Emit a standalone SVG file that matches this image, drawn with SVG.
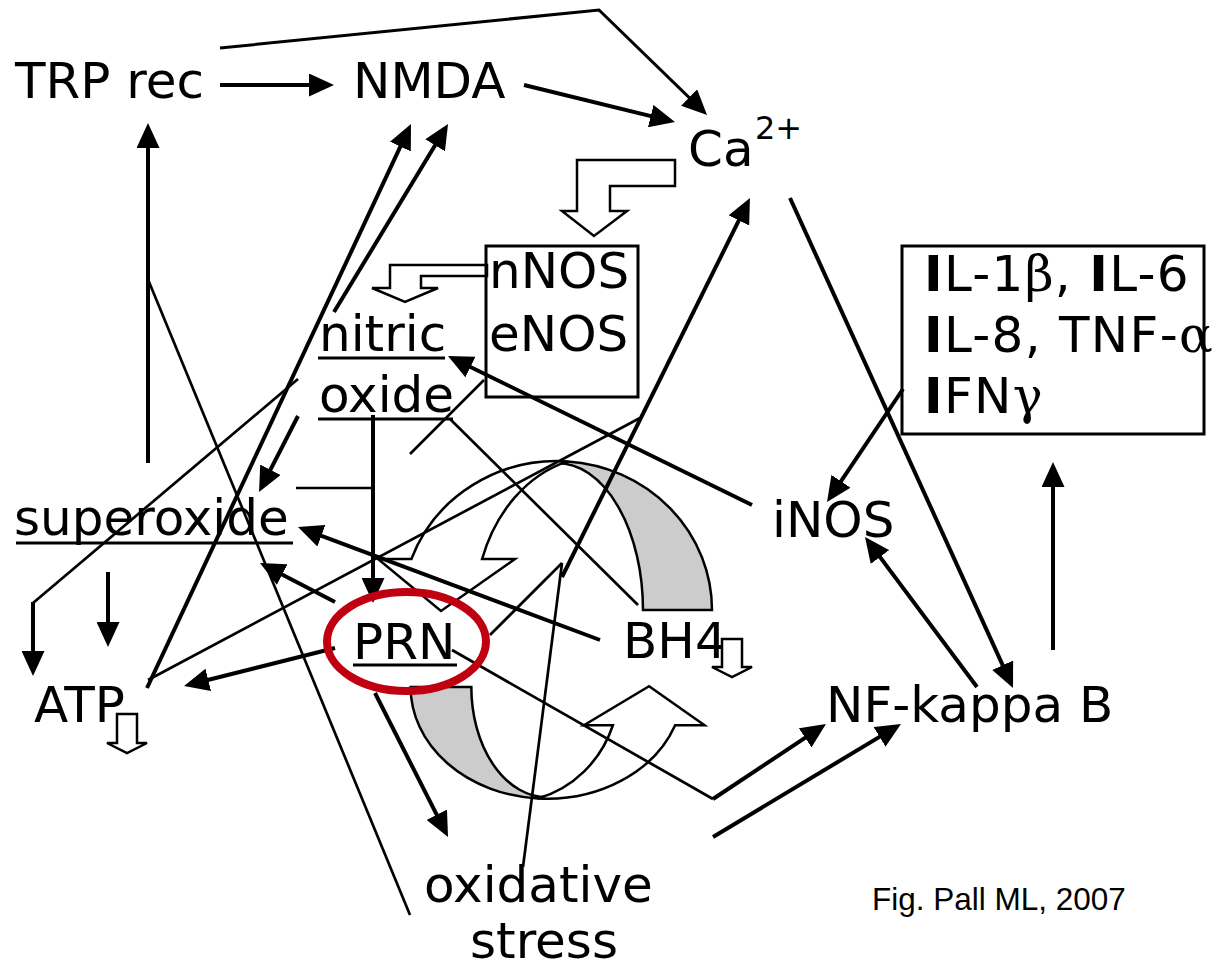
<svg xmlns="http://www.w3.org/2000/svg" width="1220" height="968" viewBox="0 0 1220 968">
<defs>
<style>
.t{font-family:"DejaVu Sans",Verdana,sans-serif;font-size:50px;fill:#000}
.sup{font-size:32px}
.cap{font-family:"Liberation Sans",Arial,sans-serif;font-size:31.5px;fill:#000}
.gr{font-family:"DejaVu Serif",serif}
.b{font-weight:bold}
.k{stroke:#000;stroke-width:4;fill:none}
.n{stroke:#000;stroke-width:2.7;fill:none}
.a{marker-end:url(#ah)}
.u{stroke:#000;stroke-width:3}
.box{fill:none;stroke:#000;stroke-width:3}
.h{fill:#fff;stroke:#000;stroke-width:2.5;stroke-linejoin:miter}
.g{fill:#cccccc;stroke:#000;stroke-width:2.5}
.w{fill:#fff;stroke:#000;stroke-width:2.5}
</style>
<marker id="ah" markerUnits="userSpaceOnUse" markerWidth="25" markerHeight="23" refX="17" refY="11.5" orient="auto">
<path d="M0,0 L25,11.5 L0,23 Z" fill="#000"/>
</marker>
<g id="cyc">
<path class="g" vector-effect="non-scaling-stroke" d="M10.5,-148.6 A155,149 0 0 1 155,0 L86,0 A86,147 0 0 0 0,-147 Z"/>
<path class="w" vector-effect="non-scaling-stroke" d="M-145.6,-51 A155,149 0 0 1 10.5,-148.6 A125,154 0 0 0 -74.9,-51 L-42,-51 L-116,1 L-179,-51 Z"/>
</g>
</defs>
<rect width="1220" height="968" fill="#fff"/>

<g id="cycle-arrows">
<use href="#cyc" transform="translate(557,610)"/>
<use href="#cyc" transform="translate(547,687) rotate(180) scale(0.88,0.75)"/>
</g>

<g id="connectors">
<polyline class="k a" style="stroke-width:3" points="220,48 599,10 701.3,109.4"/>
<line class="k a" x1="220" y1="85" x2="326" y2="85"/>
<line class="k a" x1="524" y1="85" x2="667.2" y2="120.1"/>
<line class="k a" x1="148" y1="463" x2="148" y2="131"/>
<line class="k a" x1="147" y1="688" x2="407.6" y2="131.2"/>
<line class="k a" x1="334" y1="312" x2="443.9" y2="130.8"/>
<line class="k a" x1="790" y1="198" x2="1009.7" y2="680.7"/>
<line class="k a" x1="562" y1="577" x2="746.4" y2="205.2"/>
<line class="k a" x1="752" y1="505" x2="455.2" y2="359.5"/>
<line class="k a" x1="903" y1="389" x2="831.5" y2="495.4"/>
<line class="k a" x1="977" y1="687" x2="869.8" y2="543.4"/>
<line class="k a" x1="1053" y1="650" x2="1053" y2="470"/>
<line class="k a" x1="713" y1="799" x2="819.3" y2="728.4"/>
<line class="k a" x1="713" y1="837" x2="894.1" y2="728.1"/>
<line class="k a" x1="298" y1="416" x2="262.7" y2="484.9"/>
<line class="k a" x1="373" y1="415" x2="373" y2="595"/>
<line class="k a" x1="600" y1="640" x2="305.5" y2="529.8"/>
<line class="k a" x1="335" y1="602" x2="267.1" y2="566.7"/>
<line class="k a" x1="108" y1="572" x2="108" y2="639"/>
<line class="k a" x1="33" y1="602" x2="33" y2="668"/>
<line class="k a" x1="335" y1="648" x2="191.8" y2="684"/>
<line class="k a" x1="375" y1="693" x2="444.4" y2="829.9"/>
<line class="n" x1="147" y1="277" x2="410" y2="915"/>
<line class="n" x1="148" y1="680" x2="640" y2="418"/>
<line class="n" x1="450" y1="419" x2="638" y2="605"/>
<line class="n" x1="484" y1="380" x2="410" y2="454"/>
<line class="n" x1="452" y1="650" x2="713" y2="799"/>
<line class="n" x1="523" y1="867" x2="562" y2="563"/>
<line class="n" x1="490" y1="635" x2="562" y2="563"/>
<line class="n" x1="296" y1="488" x2="373" y2="488"/>
<line class="n" x1="298" y1="379" x2="33" y2="603"/>
<polygon class="h" points="577,160 675,160 675,186 610,186 610,211 627,211 594,236 562,211 577,211"/>
<polygon class="h" points="487,265 390,265 390,288 372,288 405,302 438,288 421,288 421,276 487,276"/>
</g>

<g id="trp"><text class="t" x="15" y="98">TRP rec</text></g>
<g id="nmda"><text class="t" x="353" y="98">NMDA</text></g>
<g id="ca"><text class="t" x="688" y="166">Ca</text><text class="t sup" x="755" y="139">2+</text></g>
<g id="nos"><rect class="box" x="486" y="246" width="152" height="151"/>
<text class="t" x="489" y="288">nNOS</text><text class="t" x="489" y="351">eNOS</text></g>
<g id="no"><text class="t" x="319" y="351">nitric</text><line class="u" x1="318" y1="358" x2="445" y2="358"/>
<text class="t" x="319" y="412">oxide</text><line class="u" x1="318" y1="419" x2="453" y2="419"/></g>
<g id="cytokines"><rect class="box" x="902" y="246" width="302" height="188"/>
<text class="t" x="924" y="291" letter-spacing="1.3"><tspan class="b">I</tspan>L-1<tspan class="gr">β</tspan>, <tspan class="b">I</tspan>L-6</text>
<text class="t" x="924" y="352" letter-spacing="1.3"><tspan class="b">I</tspan>L-8, TNF-<tspan class="gr">α</tspan></text>
<text class="t" x="924" y="413" letter-spacing="1.3"><tspan class="b">I</tspan>FN<tspan class="gr">γ</tspan></text></g>
<g id="inos"><text class="t" x="772" y="537">iNOS</text></g>
<g id="superoxide"><text class="t" x="14" y="535">superoxide</text><line class="u" x1="16" y1="543" x2="293" y2="543"/></g>
<g id="prn"><ellipse cx="406.5" cy="641.5" rx="79.5" ry="49.5" fill="none" stroke="#C00010" stroke-width="8"/>
<text class="t" x="353" y="659">PRN</text><line class="u" x1="353" y1="665" x2="457" y2="665"/></g>
<g id="bh4"><text class="t" x="623" y="658">BH4</text>
<polygon class="h" points="722,639 742,639 742,667 752,667 732,677 712,667 722,667"/></g>
<g id="atp"><text class="t" x="34" y="722">ATP</text>
<polygon class="h" points="117,714 137,714 137,743 147,743 127,753 107,743 117,743"/></g>
<g id="nfkb"><text class="t" x="826" y="722">NF-kappa B</text></g>
<g id="ox"><text class="t" x="424" y="902">oxidative</text><text class="t" x="470" y="958">stress</text></g>
<g id="caption"><text class="cap" x="872" y="910">Fig. Pall ML, 2007</text></g>
</svg>
